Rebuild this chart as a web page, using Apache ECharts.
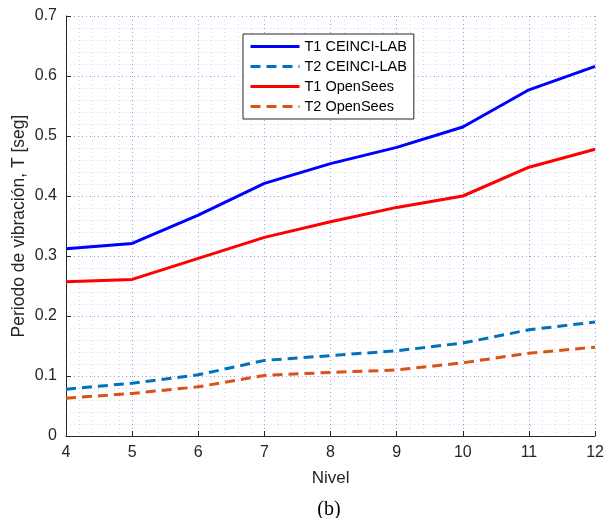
<!DOCTYPE html>
<html>
<head>
<meta charset="utf-8">
<script src="https://cdn.jsdelivr.net/npm/echarts@6/dist/echarts.min.js"></script>
<style>
  html, body { margin: 0; padding: 0; background: #fff; }
  #chart { width: 607px; height: 518px; }
</style>
</head>
<body>
<div id="chart"></div>
<script>
// Nivel (number of storeys)
const niveles = [4, 5, 6, 7, 8, 9, 10, 11, 12];

// Vibration periods [s]
const t1Ceinci = [0.312, 0.321, 0.368, 0.421, 0.454, 0.481, 0.515, 0.577, 0.616];
const t2Ceinci = [0.078, 0.088, 0.102, 0.126, 0.134, 0.142, 0.155, 0.177, 0.190];
const t1OpenSees = [0.257, 0.261, 0.296, 0.331, 0.357, 0.381, 0.400, 0.448, 0.478];
const t2OpenSees = [0.063, 0.071, 0.082, 0.101, 0.106, 0.110, 0.122, 0.138, 0.148];

const seriesNames = ['T1 CEINCI-LAB', 'T2 CEINCI-LAB', 'T1 OpenSees', 'T2 OpenSees'];

const pairs = (ys) => niveles.map((x, i) => [x, ys[i]]);

const font = 'Liberation Sans, Arial, sans-serif';
const axisColor = '#262626';
const majorGrid = { color: '#9a9af2', width: 1, type: [1, 3] };
const minorGrid = { color: '#d6d6f4', width: 1, type: [1, 3] };

const mkLine = (name, data, color, dashed) => ({
  name,
  type: 'line',
  data: pairs(data),
  symbol: 'none',
  showSymbol: false,
  lineStyle: { color, width: 3, type: dashed ? [10, 6] : 'solid' },
  itemStyle: { color },
  z: 3
});

const chart = echarts.init(document.getElementById('chart'), null, { renderer: 'canvas' });

chart.setOption({
  animation: false,
  backgroundColor: '#fff',
  textStyle: { fontFamily: font },
  grid: { left: 66, right: 9, top: 16, bottom: 82, containLabel: false },
  graphic: [{
    type: 'text',
    x: 329,
    y: 510,
    style: {
      text: '(b)',
      font: '20px "Liberation Serif", "Times New Roman", serif',
      fill: '#000',
      textAlign: 'center',
      textVerticalAlign: 'middle'
    }
  }],
  legend: {
    orient: 'vertical',
    left: 243,
    top: 34,
    data: seriesNames,
    itemWidth: 49,
    itemHeight: 14,
    itemGap: 5,
    padding: [5, 7, 5, 6],
    backgroundColor: '#fff',
    borderColor: axisColor,
    borderWidth: 1,
    borderRadius: 0,
    itemStyle: { opacity: 0 },
    lineStyle: { width: 3 },
    textStyle: { fontFamily: font, fontSize: 14.5, color: '#000', lineHeight: 14 }
  },
  xAxis: {
    type: 'value',
    min: 4,
    max: 12,
    interval: 1,
    name: 'Nivel',
    nameLocation: 'middle',
    nameGap: 34,
    nameTextStyle: { fontSize: 17, color: axisColor, fontFamily: font },
    axisLine: { show: true, onZero: false, lineStyle: { color: axisColor, width: 1 } },
    axisTick: { show: true, inside: true, length: 5, lineStyle: { color: axisColor } },
    axisLabel: { fontSize: 16, color: axisColor, margin: 9, fontFamily: font },
    splitLine: { show: true, lineStyle: majorGrid },
    minorTick: { show: false, splitNumber: 5 },
    minorSplitLine: { show: true, lineStyle: minorGrid }
  },
  yAxis: {
    type: 'value',
    min: 0,
    max: 0.7,
    interval: 0.1,
    name: 'Periodo de vibración, T [seg]',
    nameLocation: 'middle',
    nameGap: 38,
    nameMoveOverlap: false,
    nameTextStyle: { fontSize: 17.5, color: axisColor, fontFamily: font },
    axisLine: { show: true, onZero: false, lineStyle: { color: axisColor, width: 1 } },
    axisTick: { show: true, inside: true, length: 5, lineStyle: { color: axisColor } },
    axisLabel: { fontSize: 16, color: axisColor, margin: 9, fontFamily: font,
                 formatter: (v) => (v === 0 ? '0' : v.toFixed(1)) },
    splitLine: { show: true, lineStyle: majorGrid },
    minorTick: { show: false, splitNumber: 5 },
    minorSplitLine: { show: true, lineStyle: minorGrid }
  },
  series: [
    mkLine(seriesNames[0], t1Ceinci, '#0000ff', false),
    mkLine(seriesNames[1], t2Ceinci, '#0072bd', true),
    mkLine(seriesNames[2], t1OpenSees, '#ff0000', false),
    mkLine(seriesNames[3], t2OpenSees, '#d95319', true)
  ]
});
</script>
</body>
</html>
